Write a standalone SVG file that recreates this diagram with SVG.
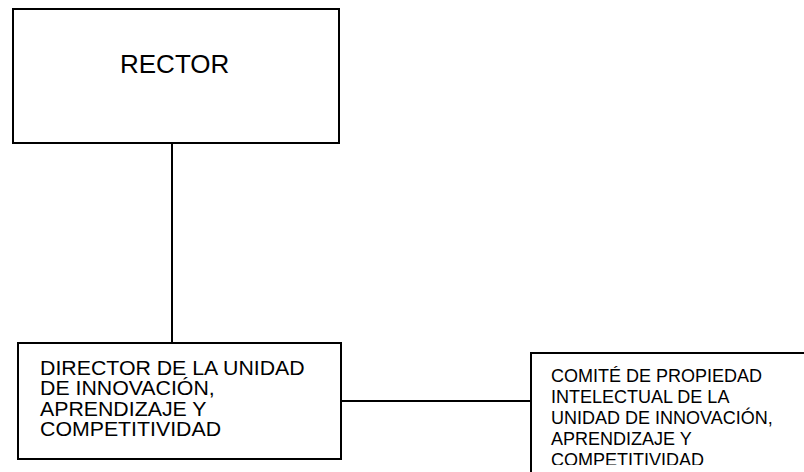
<svg xmlns="http://www.w3.org/2000/svg" width="804" height="472" viewBox="0 0 804 472">
<style>
.box{fill:#fff;stroke:#000;stroke-width:2}
.ln{stroke:#000;stroke-width:2;fill:none}
text{font-family:"Liberation Sans",Arial,sans-serif;fill:#000}
</style>
<defs>
<clipPath id="clipC"><rect x="531" y="353" width="273" height="112"/></clipPath>
</defs>
<rect width="804" height="472" fill="#fff"/>
<g id="connectors">
<line class="ln" x1="172" y1="143" x2="172" y2="343"/>
<line class="ln" x1="341" y1="401" x2="531" y2="401"/>
</g>
<g id="rector">
<rect class="box" x="13" y="9" width="326" height="134"/>
<text x="120" y="73" font-size="26">RECTOR</text>
</g>
<g id="director">
<rect class="box" x="18" y="343" width="323" height="116"/>
<text font-size="20" transform="translate(40,0) scale(1.065,1)">
<tspan x="0" y="375">DIRECTOR DE LA UNIDAD</tspan>
<tspan x="0" y="395.5">DE INNOVACIÓN,</tspan>
<tspan x="0" y="416">APRENDIZAJE Y</tspan>
<tspan x="0" y="436.5">COMPETITIVIDAD</tspan>
</text>
</g>
<g id="comite">
<path class="ln" d="M531 473 V353 H805"/>
<text font-size="18" clip-path="url(#clipC)">
<tspan x="551" y="382">COMITÉ DE PROPIEDAD</tspan>
<tspan x="551" y="403">INTELECTUAL DE LA</tspan>
<tspan x="551" y="424">UNIDAD DE INNOVACIÓN,</tspan>
<tspan x="551" y="445">APRENDIZAJE Y</tspan>
<tspan x="551" y="466">COMPETITIVIDAD</tspan>
</text>
</g>
</svg>
